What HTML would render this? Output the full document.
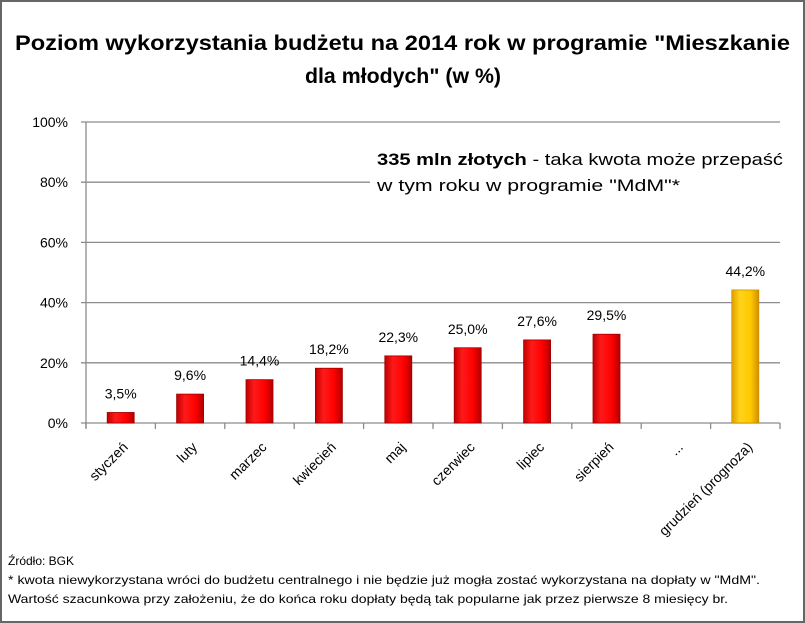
<!DOCTYPE html>
<html><head><meta charset="utf-8"><style>
body{margin:0;background:#fff;}
#c{position:relative;width:805px;height:623px;overflow:hidden;font-family:"Liberation Sans",sans-serif;}
</style></head><body>
<div id="c">
<svg id="s" width="805" height="623" xmlns="http://www.w3.org/2000/svg">
<defs>
<linearGradient id="gr" x1="0" x2="1" y1="0" y2="0"><stop offset="0" stop-color="#c00000"/><stop offset="0.3" stop-color="#ff1a1a"/><stop offset="0.7" stop-color="#ff0000"/><stop offset="1" stop-color="#b00000"/></linearGradient>
<linearGradient id="gy" x1="0" x2="1" y1="0" y2="0"><stop offset="0" stop-color="#e0a000"/><stop offset="0.3" stop-color="#ffd21a"/><stop offset="0.7" stop-color="#ffc800"/><stop offset="1" stop-color="#d09000"/></linearGradient>
</defs>
<rect x="1" y="1" width="803" height="621" fill="#fff" stroke="#666" stroke-width="2"/>
<text x="15" y="50" textLength="775" lengthAdjust="spacingAndGlyphs" font-size="21" font-weight="bold" fill="#000">Poziom wykorzystania budżetu na 2014 rok w programie "Mieszkanie</text>
<text x="305" y="83" textLength="196" lengthAdjust="spacingAndGlyphs" font-size="21" font-weight="bold" fill="#000">dla młodych" (w %)</text>
<g id="grid"></g><g id="bars"></g><g id="labels"></g>
<rect x="370" y="142" width="420" height="58" fill="#fff"/>
<text x="377" y="165" textLength="406" lengthAdjust="spacingAndGlyphs" font-size="17" fill="#000"><tspan font-weight="bold">335 mln złotych</tspan> - taka kwota może przepaść</text>
<text x="377" y="191" textLength="303" lengthAdjust="spacingAndGlyphs" font-size="17" fill="#000">w tym roku w programie  "MdM"*</text>
<text x="8" y="565" font-size="12" fill="#000">Źródło: BGK</text>
<text x="8" y="584" textLength="752" lengthAdjust="spacingAndGlyphs" font-size="12" fill="#000">* kwota niewykorzystana wróci do budżetu centralnego i nie będzie już mogła zostać wykorzystana na dopłaty w "MdM".</text>
<text x="8" y="603" textLength="720" lengthAdjust="spacingAndGlyphs" font-size="12" fill="#000">Wartość szacunkowa przy założeniu, że do końca roku dopłaty będą tak popularne jak przez pierwsze 8 miesięcy  br.</text>
</svg>
</div>
<script>
const categories=["styczeń","luty","marzec","kwiecień","maj","czerwiec","lipiec","sierpień","...","grudzień (prognoza)"];
const values=[3.5,9.6,14.4,18.2,22.3,25.0,27.6,29.5,null,44.2];
const valueLabels=["3,5%","9,6%","14,4%","18,2%","22,3%","25,0%","27,6%","29,5%","","44,2%"];
const forecast=[false,false,false,false,false,false,false,false,false,true];
const yTicks=[0,20,40,60,80,100];
const yTickLabels=["0%","20%","40%","60%","80%","100%"];
const NS="http://www.w3.org/2000/svg";
const X0=86,X1=780,Y0=423,Y1=122,YMAX=100;
const bw=(X1-X0)/categories.length;
function xs(i){return X0+bw*(i+0.5);}
function ys(v){return Y0-(v/YMAX)*(Y0-Y1);}
function mk(t,a,p){const e=document.createElementNS(NS,t);for(const k in a)e.setAttribute(k,a[k]);p.appendChild(e);return e;}
const grid=document.getElementById('grid'),bars=document.getElementById('bars'),labels=document.getElementById('labels');
yTicks.forEach((t,i)=>{
 const y=ys(t);
 const l=mk('line',{x1:X0-5,x2:X1,y1:y,y2:y,stroke:'#8c8c8c','stroke-width':1.3},grid);
 
 
 const tx=mk('text',{x:X0-18,y:y+5,'text-anchor':'end','font-size':14,fill:'#000'},grid);
 tx.textContent=yTickLabels[i];
 
 
});
const ax=mk('line',{x1:X0,x2:X0,y1:Y1,y2:Y0+5,stroke:'#8c8c8c','stroke-width':1.3},grid);


for(let i=0;i<=categories.length;i++){
 const x=X0+bw*i;
 const tk=mk('line',{x1:x,x2:x,y1:Y0,y2:Y0+6,stroke:'#8c8c8c','stroke-width':1.3},grid);
 
 
}
categories.forEach((c,i)=>{
 const x=xs(i);
 if(values[i]!=null){
  const y=ys(values[i]);
  const r=mk('rect',{x:x-13.5,y:y,width:27,height:Y0-y,fill:forecast[i]?'url(#gy)':'url(#gr)',stroke:forecast[i]?'#c89000':'#a00000','stroke-width':0.8},bars);
  
  
  const vl=mk('text',{x:x,y:ys(values[i])-14,'text-anchor':'middle','font-size':14,fill:'#000'},labels);
  vl.textContent=valueLabels[i];
  
  
 }
 const cl=mk('text',{x:0,y:0,'text-anchor':'end','font-size':14,fill:'#000',transform:`translate(${x+8},${Y0+25}) rotate(-45)`},labels);
 cl.textContent=c;
 
 
});
</script>
</body></html>
